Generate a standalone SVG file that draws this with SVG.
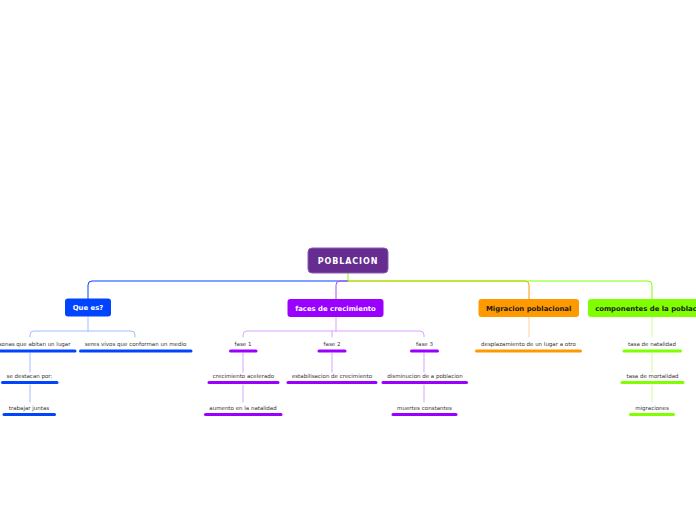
<svg xmlns="http://www.w3.org/2000/svg" width="696" height="520" viewBox="0 0 696 520">
<style>
.t{font-family:"DejaVu Sans",Verdana,sans-serif;font-size:5.5px;fill:#333;text-anchor:middle}
.bt{font-family:"DejaVu Sans",Verdana,sans-serif;font-size:6.9px;font-weight:bold;text-anchor:middle}
.c{fill:none;stroke-width:1;stroke-linecap:round}
.u{fill:none;stroke-width:3;stroke-linecap:round}
.blue{stroke:#0044ff}.purple{stroke:#9900ff}.orange{stroke:#ff9900}.green{stroke:#80ff00}
.lblue{stroke:#a6baff}.lpurple{stroke:#d9a3ff}.lorange{stroke:#ffd39a}.lgreen{stroke:#ccff99}
</style>
<rect width="696" height="520" fill="#ffffff"/>
<g id="connectors">
<path class="c blue" d="M348,281 H92 Q88,281 88,285 V298.5"/>
<path class="c" stroke="#a64dff" d="M348,281 H340 Q336,281 336,285 V299"/>
<path class="c orange" d="M348,281 H525 Q529,281 529,285 V299"/>
<path class="c green" d="M348,273 V281 H648 Q652,281 652,285 V299"/>
<path class="c lblue" d="M88,317 V331 M88,331 H34 Q30,331 30,335 V337 M88,331 H131 Q135,331 135,335 V337"/>
<path class="c lblue" d="M30,353 V372 M30,385 V402"/>
<path class="c lpurple" d="M336,317 V331 M336,331 H247 Q243,331 243,335 V337 M336,331 H420 Q424,331 424,335 V337 M332,331 V337"/>
<path class="c lpurple" d="M243,353 V372 M243,385 V402 M332,353 V372 M424,353 V372 M424,385 V402"/>
<path class="c lorange" d="M529,317 V337"/>
<path class="c lgreen" d="M652,317 V337 M652,353 V372 M652,385 V402"/>
</g>
<g id="poblacion">
<rect x="308" y="248" width="80" height="25" rx="4" fill="#662d91" stroke="#8c5bb3" stroke-width="1"/>
<text class="bt" x="348" y="263.7" style="font-size:8px;letter-spacing:0.9px" fill="#ffffff">POBLACION</text>
</g>
<g id="que-es">
<rect x="65" y="298.5" width="46" height="18" rx="3" fill="#0044ff"/>
<text class="bt" x="88" y="310" fill="#ffffff">Que es?</text>
</g>
<g id="personas">
<text class="t" x="30" y="346">personas que abitan un lugar</text>
<path class="u blue" d="M-15,351 H75"/>
</g>
<g id="seres">
<text class="t" x="135.5" y="346">seres vivos que conforman un medio</text>
<path class="u blue" d="M80.5,351 H191"/>
</g>
<g id="destacan">
<text class="t" x="29.5" y="378">se destacan por:</text>
<path class="u blue" d="M2.5,382.5 H57"/>
</g>
<g id="trabajar">
<text class="t" x="29" y="410">trabajar juntas</text>
<path class="u blue" d="M4,414.5 H54.5"/>
</g>
<g id="faces">
<rect x="287.5" y="299" width="96" height="18" rx="3" fill="#9900ff"/>
<text class="bt" x="335.5" y="310.5" fill="#ffffff">faces de crecimiento</text>
</g>
<g id="fase1">
<text class="t" x="243" y="346">fase 1</text>
<path class="u purple" d="M230.5,351 H256"/>
</g>
<g id="fase2">
<text class="t" x="332" y="346">fase 2</text>
<path class="u purple" d="M319,351 H345"/>
</g>
<g id="fase3">
<text class="t" x="424.5" y="346">fase 3</text>
<path class="u purple" d="M411.5,351 H437.5"/>
</g>
<g id="crecimiento">
<text class="t" x="243.5" y="378">crecimiento acelerado</text>
<path class="u purple" d="M209,382.5 H278"/>
</g>
<g id="estabilisacion">
<text class="t" x="332" y="378">estabilisacion de crecimiento</text>
<path class="u purple" d="M288,382.5 H376"/>
</g>
<g id="disminucion">
<text class="t" x="425" y="378">disminucion de a poblacion</text>
<path class="u purple" d="M383,382.5 H466.5"/>
</g>
<g id="aumento">
<text class="t" x="243" y="410">aumento en la natalidad</text>
<path class="u purple" d="M205.5,414.5 H281"/>
</g>
<g id="muertes">
<text class="t" x="424.5" y="410">muertes constantes</text>
<path class="u purple" d="M393,414.5 H456"/>
</g>
<g id="migracion">
<rect x="478.5" y="299" width="100.5" height="18" rx="3" fill="#ff9900"/>
<text class="bt" x="528.7" y="310.5" fill="#1a1a1a">Migracion poblacional</text>
</g>
<g id="desplazamiento">
<text class="t" x="528.5" y="346">desplazamiento de un lugar a otro</text>
<path class="u orange" d="M476.5,351 H580.5"/>
</g>
<g id="componentes">
<rect x="588" y="299" width="128" height="18" rx="3" fill="#80ff00"/>
<text class="bt" x="652" y="310.5" fill="#1a1a1a">componentes de la poblacion</text>
</g>
<g id="natalidad">
<text class="t" x="652" y="346">tasa de natalidad</text>
<path class="u green" d="M624,351 H680.5"/>
</g>
<g id="mortalidad">
<text class="t" x="652.5" y="378">tasa de mortalidad</text>
<path class="u green" d="M622,382.5 H683"/>
</g>
<g id="migraciones">
<text class="t" x="652" y="410">migraciones</text>
<path class="u green" d="M630.5,414.5 H673.5"/>
</g>
</svg>
